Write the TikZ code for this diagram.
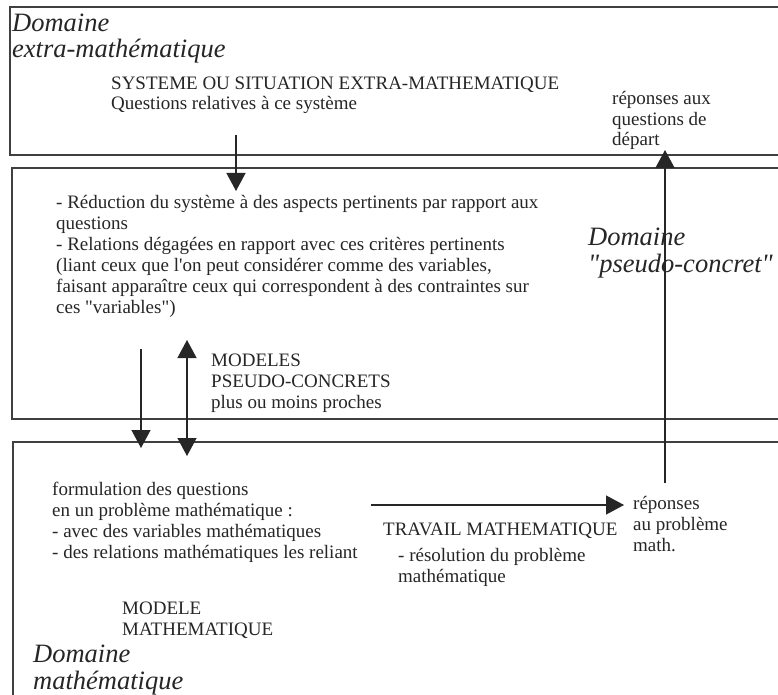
\documentclass[tikz,border=0pt]{standalone}
\usepackage{fontspec}
\setmainfont{Liberation Serif}[Ligatures=TeXOff]
\usetikzlibrary{arrows.meta}
\begin{document}
\begin{tikzpicture}[x=1pt,y=-1pt,
  frame/.style={draw=black!75, line width=1.6pt},
  arr/.style={-{Triangle[length=18pt,width=19pt]}, line width=1.3pt, draw=black!85, fill=black},
  darr/.style={{Triangle[length=18pt,width=19pt]}-{Triangle[length=18pt,width=19pt]}, line width=1.3pt, draw=black!85, fill=black},
  txt/.style={font=\fontsize{19}{20.9}\selectfont, align=left, inner sep=0pt, anchor=base west, text=black!85},
  dom/.style={font=\fontsize{26.5}{26.5}\selectfont\itshape, align=left, inner sep=0pt, anchor=base west, text=black!85}]
\useasboundingbox[fill=white] (0,0) rectangle (778,695);
% frames
\draw[frame] (778,7) -- (10,7) -- (10,155) -- (778,155);
\draw[frame] (778,168) -- (12,168) -- (12,419) -- (778,419);
\draw[frame] (778,442) -- (13,442) -- (13,696);
% texts (anchor = baseline of the last line)
\node[dom] (dextra) at (12,58) {Domaine\\extra-mathématique};
\node[txt] (sys) at (111,110) {SYSTEME OU SITUATION EXTRA-MATHEMATIQUE\\Questions relatives à ce système};
\node[txt] (repq) at (612,146) {réponses aux\\questions de\\départ};
\node[txt] (reduc) at (56,313) {- Réduction du système à des aspects pertinents par rapport aux\\questions\\- Relations dégagées en rapport avec ces critères pertinents\\(liant ceux que l'on peut considérer comme des variables,\\faisant apparaître ceux qui correspondent à des contraintes sur\\ces "variables")};
\node[dom] (dpseudo) at (588,272) {Domaine\\"pseudo-concret"};
\node[txt] (mpc) at (211,408) {MODELES\\PSEUDO-CONCRETS\\plus ou moins proches};
\node[txt] (form) at (52,558) {formulation des questions\\en un problème mathématique :\\- avec des variables mathématiques\\- des relations mathématiques les reliant};
\node[txt] (travail) at (383,535) {TRAVAIL MATHEMATIQUE};
\node[txt] (resol) at (398,582) {- résolution du problème\\mathématique};
\node[txt] (repm) at (633,551) {réponses\\au problème\\math.};
\node[txt] (mm) at (122,635) {MODELE\\MATHEMATIQUE};
\node[dom] (dmath) at (33,689) {Domaine\\mathématique};
% connectors
\coordinate (a1s) at (236,135);
\coordinate (a1e) at (236,191);
\coordinate (a2s) at (141,349);
\coordinate (a2e) at (141,448);
\coordinate (a3s) at (187,340);
\coordinate (a3e) at (187,456);
\coordinate (a4s) at (371,505);
\coordinate (a4e) at (624,505);
\coordinate (a5s) at (665,483);
\coordinate (a5e) at (665,150);
\draw[arr] (a1s) -- (a1e);
\draw[arr] (a2s) -- (a2e);
\draw[darr] (a3s) -- (a3e);
\draw[arr] (a4s) -- (a4e);
\draw[arr] (a5s) -- (a5e);
\end{tikzpicture}
\end{document}
